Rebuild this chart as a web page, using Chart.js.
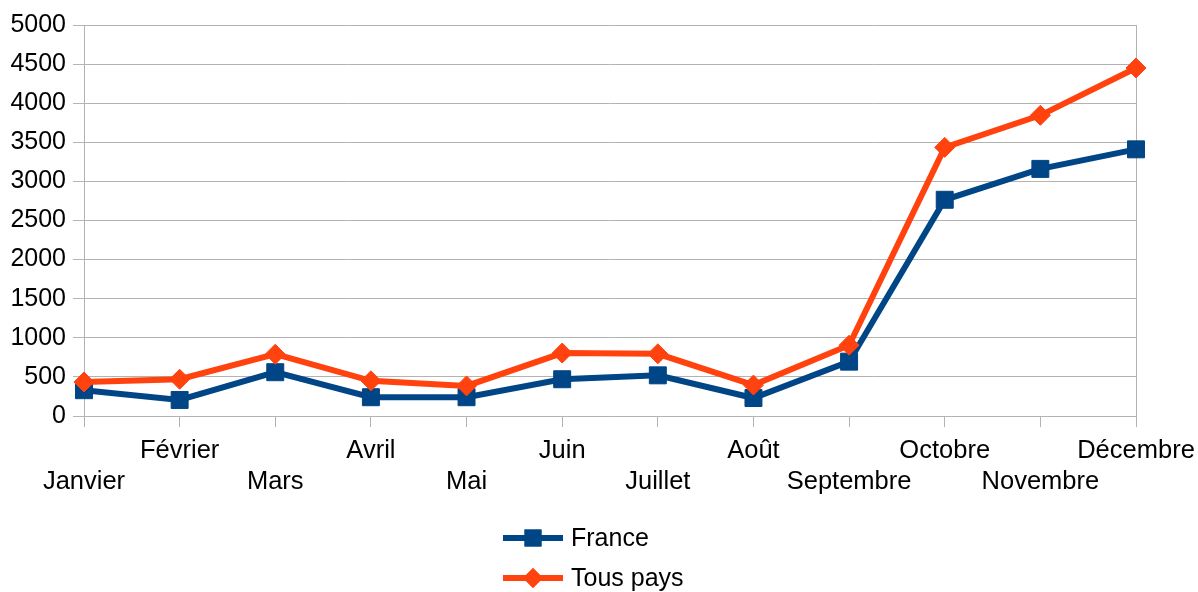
<!DOCTYPE html>
<html>
<head>
<meta charset="utf-8">
<script src="https://cdn.jsdelivr.net/npm/chart.js@4/dist/chart.umd.min.js"></script>
<style>
  html, body { margin: 0; padding: 0; background: #fff; }
</style>
</head>
<body>
<canvas id="canvasMois" width="1198" height="592"></canvas>
<script>
// months, staggered on two rows like the original
var mois = ["Janvier", "Février", "Mars", "Avril", "Mai", "Juin", "Juillet",
  "Août", "Septembre", "Octobre", "Novembre", "Décembre"];
var france = [330, 205, 560, 240, 240, 470, 520, 230, 695, 2765, 3160, 3410];
var tousPays = [435, 470, 790, 450, 385, 805, 795, 395, 905, 3435, 3845, 4450];
var yTicks = [0, 500, 1000, 1500, 2000, 2500, 3000, 3500, 4000, 4500, 5000];

var bleu = "#004586";
var orange = "#ff420e";
var gris = "#b3b3b3";

Chart.defaults.font.family = "'Liberation Sans', Arial, sans-serif";
Chart.defaults.font.size = 25;
Chart.defaults.color = "#000";

var labels = [];
for (var i = 0; i < mois.length; i++) {
  // odd months on the top row, even ones on the bottom row
  labels.push(i % 2 === 1 ? [mois[i], ""] : ["", mois[i]]);
}

// legend stacked vertically under the chart
var legendePlugin = {
  id: "legende",
  afterDraw: function (chart) {
    var ctx = chart.ctx;
    var items = [
      { texte: "France", couleur: bleu, forme: "rect", r: 12 },
      { texte: "Tous pays", couleur: orange, forme: "rectRot", r: 10 }
    ];
    ctx.save();
    for (var i = 0; i < items.length; i++) {
      var y = 538 + i * 40;
      ctx.strokeStyle = items[i].couleur;
      ctx.lineWidth = 6;
      ctx.beginPath();
      ctx.moveTo(503, y);
      ctx.lineTo(563, y);
      ctx.stroke();
      ctx.fillStyle = items[i].couleur;
      Chart.helpers.drawPoint(ctx, { pointStyle: items[i].forme, radius: items[i].r, borderWidth: 0 }, 533, y);
      ctx.fill();
      ctx.fillStyle = "#000";
      ctx.font = "25px 'Liberation Sans', Arial, sans-serif";
      ctx.textBaseline = "middle";
      ctx.textAlign = "left";
      ctx.fillText(items[i].texte, 571, y + 1);
    }
    ctx.restore();
  }
};

var ctx = document.getElementById("canvasMois").getContext("2d");
window.myLine = new Chart(ctx, {
  type: "line",
  data: {
    labels: labels,
    datasets: [
      {
        label: "France",
        data: france,
        borderColor: bleu,
        backgroundColor: bleu,
        borderWidth: 6,
        pointStyle: "rect",
        pointRadius: 12,
        pointBorderWidth: 1,
        pointBackgroundColor: bleu,
        pointBorderColor: bleu,
        tension: 0,
        order: 1
      },
      {
        label: "Tous pays",
        data: tousPays,
        borderColor: orange,
        backgroundColor: orange,
        borderWidth: 6,
        pointStyle: "rectRot",
        pointRadius: 10,
        pointBorderWidth: 1,
        pointBackgroundColor: orange,
        pointBorderColor: orange,
        tension: 0,
        order: 0
      }
    ]
  },
  options: {
    responsive: false,
    animation: false,
    layout: {
      padding: { left: 0, right: 62, top: 25, bottom: 0 }
    },
    plugins: {
      legend: { display: false },
      tooltip: { enabled: false }
    },
    scales: {
      x: {
        offset: false,
        grid: {
          drawOnChartArea: true,
          color: function (c) { return c.index === mois.length - 1 ? gris : "rgba(0,0,0,0)"; },
          tickColor: gris,
          tickLength: 11,
          lineWidth: 1
        },
        border: { display: true, color: gris, width: 1 },
        ticks: {
          autoSkip: false,
          maxRotation: 0,
          minRotation: 0,
          padding: 8,
          font: { size: 25.5, lineHeight: 1.22 }
        },
        afterFit: function (scale) {
          scale.height = 176;
          scale.paddingLeft = 0;
          scale.paddingRight = 0;
        }
      },
      y: {
        min: yTicks[0],
        max: yTicks[yTicks.length - 1],
        afterBuildTicks: function (scale) {
          scale.ticks = yTicks.map(function (v) { return { value: v }; });
        },
        grid: {
          color: gris,
          tickColor: gris,
          tickLength: 11,
          lineWidth: 1
        },
        border: { display: true, color: gris, width: 1 },
        ticks: {
          padding: 7,
          font: { size: 25 },
          callback: function (v) { return String(v); }
        },
        afterFit: function (scale) {
          scale.width = 84;
        }
      }
    }
  },
  plugins: [legendePlugin]
});
</script>
</body>
</html>
